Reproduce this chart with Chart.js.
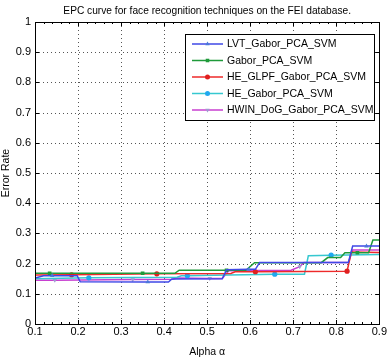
<!DOCTYPE html>
<html>
<head>
<meta charset="utf-8">
<script src="https://cdn.jsdelivr.net/npm/chart.js@4.4.1/dist/chart.umd.min.js"></script>
<style>
  html, body { margin: 0; padding: 0; background: #fff; }
  #wrap { width: 388px; height: 358px; }
</style>
</head>
<body>
<div id="wrap"><canvas id="epcChart" width="388" height="358"></canvas></div>
<script>
// axis ticks
const alphaTicks = [0.1, 0.2, 0.3, 0.4, 0.5, 0.6, 0.7, 0.8, 0.9];
const errorTicks = [0, 0.1, 0.2, 0.3, 0.4, 0.5, 0.6, 0.7, 0.8, 0.9, 1];

// series (alpha, error rate, 1 = marker drawn at that sample)
const lvtAlpha  = [0.10, 0.12, 0.14, 0.198, 0.205, 0.362, 0.41, 0.418, 0.535, 0.545, 0.596, 0.612, 0.622, 0.828, 0.838, 0.87, 0.90];
const lvtError  = [0.152, 0.16, 0.16, 0.16, 0.14, 0.139, 0.139, 0.149, 0.15, 0.18, 0.181, 0.181, 0.204, 0.204, 0.258, 0.258, 0.258];
const lvtMarked = [0, 0, 1, 0, 0, 1, 0, 0, 0, 0, 1, 0, 0, 0, 0, 1, 0];

const gaborAlpha  = [0.10, 0.134, 0.35, 0.425, 0.435, 0.545, 0.59, 0.61, 0.765, 0.78, 0.81, 0.82, 0.849, 0.875, 0.885, 0.90];
const gaborError  = [0.168, 0.168, 0.168, 0.168, 0.178, 0.178, 0.178, 0.203, 0.203, 0.22, 0.22, 0.236, 0.236, 0.236, 0.278, 0.278];
const gaborMarked = [0, 1, 1, 0, 0, 1, 0, 0, 0, 0, 0, 0, 1, 0, 0, 0];

const glpfAlpha  = [0.10, 0.185, 0.383, 0.555, 0.565, 0.612, 0.825, 0.835, 0.90];
const glpfError  = [0.162, 0.163, 0.166, 0.167, 0.173, 0.173, 0.175, 0.238, 0.237];
const glpfMarked = [0, 1, 1, 0, 0, 1, 1, 0, 0];

const heGaborAlpha  = [0.10, 0.225, 0.43, 0.44, 0.454, 0.55, 0.657, 0.726, 0.735, 0.788, 0.90];
const heGaborError  = [0.15, 0.153, 0.155, 0.16, 0.16, 0.162, 0.165, 0.165, 0.226, 0.228, 0.23];
const heGaborMarked = [0, 1, 0, 0, 1, 0, 1, 0, 0, 1, 0];

const hwinAlpha  = [0.10, 0.146, 0.327, 0.42, 0.43, 0.506, 0.535, 0.55, 0.695, 0.715, 0.725, 0.828, 0.838, 0.90];
const hwinError  = [0.145, 0.145, 0.147, 0.148, 0.152, 0.151, 0.151, 0.176, 0.178, 0.19, 0.204, 0.204, 0.245, 0.245];
const hwinMarked = [0, 1, 1, 0, 0, 1, 0, 0, 0, 1, 0, 0, 0, 0];

const seriesNames = ["LVT_Gabor_PCA_SVM", "Gabor_PCA_SVM", "HE_GLPF_Gabor_PCA_SVM", "HE_Gabor_PCA_SVM", "HWIN_DoG_Gabor_PCA_SVM"];
const lineColors = ["#3f48e6", "#1f9a3a", "#ee2a2a", "#36c8d0", "#c83fd0"];
const markerColors = ["#4a78d8", "#1f9a3a", "#e02020", "#20a8f0", "#a09ad0"];
const markerStyles = ["triangle", "rect", "circle", "circle", "triangle"];
const markerRotation = [0, 0, 0, 0, 180];

const toPoints = (xs, ys) => xs.map((x, i) => ({ x: x, y: ys[i] }));
const allSeries = [
  [lvtAlpha, lvtError, lvtMarked],
  [gaborAlpha, gaborError, gaborMarked],
  [glpfAlpha, glpfError, glpfMarked],
  [heGaborAlpha, heGaborError, heGaborMarked],
  [hwinAlpha, hwinError, hwinMarked],
];

const FONT = "'Liberation Sans', Arial, sans-serif";
const PLOT = { left: 35, right: 380, top: 22, bottom: 324 };

const datasets = allSeries.map(([xs, ys, marks], i) => ({
  label: seriesNames[i],
  data: toPoints(xs, ys),
  borderColor: lineColors[i],
  backgroundColor: markerColors[i],
  borderWidth: 1.5,
  pointStyle: markerStyles[i],
  rotation: markerRotation[i],
  pointRadius: marks.map(m => (m ? 2.6 : 0)),
  pointBorderWidth: 0,
  pointBackgroundColor: markerColors[i],
  tension: 0,
}));

// dotted grid under the lines
const dottedGrid = {
  id: "dottedGrid",
  beforeDatasetsDraw(chart) {
    const ctx = chart.ctx;
    const a = chart.chartArea;
    const xs = chart.scales.x, ys = chart.scales.y;
    ctx.save();
    ctx.strokeStyle = "#555";
    ctx.lineWidth = 1;
    ctx.setLineDash([1, 3]);
    ctx.beginPath();
    alphaTicks.slice(1, -1).forEach(v => {
      const px = Math.round(xs.getPixelForValue(v)) + 0.5;
      ctx.moveTo(px, a.top); ctx.lineTo(px, a.bottom);
    });
    errorTicks.slice(1, -1).forEach(v => {
      const py = Math.round(ys.getPixelForValue(v)) + 0.5;
      ctx.moveTo(a.left, py); ctx.lineTo(a.right, py);
    });
    ctx.stroke();
    ctx.restore();
  }
};

// axes box, inward ticks, title and legend
const matlabFrame = {
  id: "matlabFrame",
  afterDraw(chart) {
    const ctx = chart.ctx;
    const a = chart.chartArea;
    const xs = chart.scales.x, ys = chart.scales.y;
    ctx.save();
    ctx.strokeStyle = "#000";
    ctx.lineWidth = 1;
    ctx.strokeRect(Math.round(a.left) + 0.5, Math.round(a.top) + 0.5,
      Math.round(a.right - a.left), Math.round(a.bottom - a.top));

    ctx.beginPath();
    // x major + minor ticks
    for (let v = 0.1; v <= 0.9001; v += 0.02) {
      const px = Math.round(xs.getPixelForValue(v)) + 0.5;
      const major = Math.abs((v * 10) - Math.round(v * 10)) < 1e-6;
      const len = major ? 4 : 2;
      ctx.moveTo(px, a.bottom); ctx.lineTo(px, a.bottom - len);
      ctx.moveTo(px, a.top); ctx.lineTo(px, a.top + len);
    }
    errorTicks.forEach(v => {
      const py = Math.round(ys.getPixelForValue(v)) + 0.5;
      ctx.moveTo(a.left, py); ctx.lineTo(a.left + 4, py);
      ctx.moveTo(a.right, py); ctx.lineTo(a.right - 4, py);
    });
    ctx.stroke();

    // title
    ctx.fillStyle = "#000";
    ctx.font = "10.2px " + FONT;
    ctx.textAlign = "center";
    ctx.textBaseline = "middle";
    ctx.fillText("EPC curve for face recognition techniques on the FEI database.", (a.left + a.right) / 2, 11);

    // legend
    const bx = 185, by = 34, bw = 189, bh = 86;
    ctx.fillStyle = "#fff";
    ctx.fillRect(bx, by, bw, bh);
    ctx.strokeStyle = "#000";
    ctx.strokeRect(bx + 0.5, by + 0.5, bw, bh);
    ctx.font = "10.5px " + FONT;
    ctx.textAlign = "left";
    chart.data.datasets.forEach((ds, i) => {
      const y = by + 10 + i * 16.5;
      ctx.strokeStyle = ds.borderColor;
      ctx.lineWidth = 1.5;
      ctx.beginPath();
      ctx.moveTo(192, y); ctx.lineTo(223, y);
      ctx.stroke();
      ctx.fillStyle = ds.backgroundColor;
      Chart.helpers.drawPoint(ctx, {
        pointStyle: ds.pointStyle, rotation: ds.rotation, radius: 2.5, borderWidth: 0
      }, 207.5, y);
      ctx.fillStyle = "#000";
      ctx.fillText(ds.label, 227, y + 0.5);
    });
    ctx.restore();
  }
};

new Chart(document.getElementById("epcChart"), {
  type: "line",
  data: { datasets: datasets },
  options: {
    responsive: false,
    animation: false,
    layout: { padding: { top: PLOT.top, right: 388 - PLOT.right, left: 0, bottom: 0 } },
    plugins: { legend: { display: false }, tooltip: { enabled: false } },
    scales: {
      x: {
        type: "linear",
        min: 0.1, max: 0.9,
        afterBuildTicks: s => { s.ticks = alphaTicks.map(v => ({ value: v })); },
        afterFit: s => { s.height = 358 - PLOT.bottom; },
        ticks: {
          color: "#000", font: { family: FONT, size: 11 }, padding: 1, maxRotation: 0, autoSkip: false,
          callback: v => String(Math.round(v * 10) / 10)
        },
        grid: { color: "rgba(0,0,0,0)", drawTicks: false },
        border: { display: false },
        title: { display: true, text: "Alpha α", color: "#000", font: { family: FONT, size: 10.5 }, padding: { top: 2, bottom: 0 } }
      },
      y: {
        type: "linear",
        min: 0, max: 1,
        afterBuildTicks: s => { s.ticks = errorTicks.map(v => ({ value: v })); },
        afterFit: s => { s.width = PLOT.left; },
        ticks: {
          color: "#000", font: { family: FONT, size: 11 }, padding: 4, autoSkip: false,
          callback: v => String(Math.round(v * 10) / 10)
        },
        grid: { color: "rgba(0,0,0,0)", drawTicks: false },
        border: { display: false },
        title: { display: true, text: "Error Rate", color: "#000", font: { family: FONT, size: 10.5 }, padding: { top: 0, bottom: 0 } }
      }
    }
  },
  plugins: [dottedGrid, matlabFrame]
});
</script>
</body>
</html>
